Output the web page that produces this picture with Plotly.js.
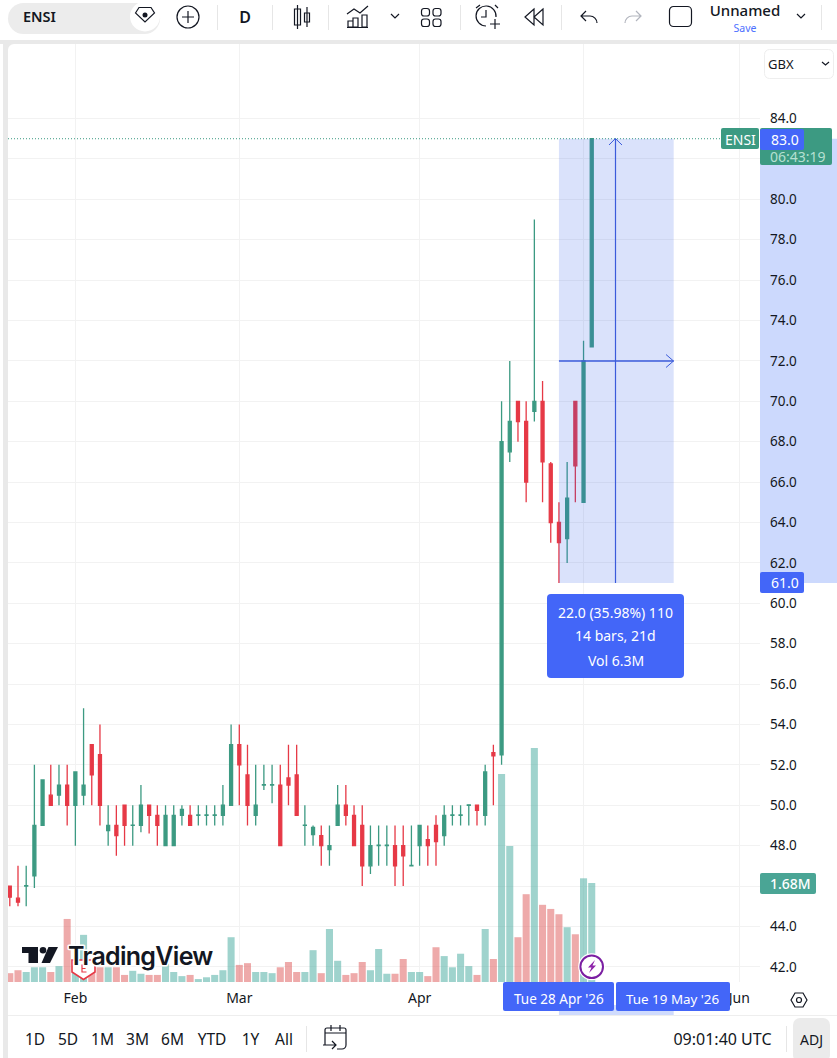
<!DOCTYPE html>
<html><head><meta charset="utf-8">
<script src="https://cdn.plot.ly/plotly-3.0.1.min.js"></script>
<style>
html,body{margin:0;padding:0;background:#fff;overflow:hidden}
#chart{position:absolute;left:0;top:0;width:837px;height:1058px}
#chrome{position:absolute;left:0;top:0;width:837px;height:1058px;pointer-events:none}
#chrome text{font-family:"Noto Sans",sans-serif;fill:#131722}
.ic{fill:none;stroke:#131722;stroke-width:1.2}
.dv{stroke:#e6e6e6;stroke-width:1}
</style></head><body>
<div id="chart"></div>
<svg id="chrome" width="837" height="1058" viewBox="0 0 837 1058">
  <rect x="0" y="40" width="837" height="4" fill="#e9e9e9"/>
  <rect x="3" y="40" width="5" height="1018" fill="#e9e9e9"/>
  <path d="M8 44h6a6 6 0 0 0-6 6z" fill="#e9e9e9"/>
  <rect x="8" y="3" width="152" height="31" rx="15.5" fill="#ececec"/>
  <text x="23" y="22" font-size="14.5" font-weight="600">ENSI</text>
  <circle cx="145" cy="16.5" r="15" fill="#fff"/>
  <path class="ic" d="M135.500 13l3.500-5.500h12l3.500 5.500-9.500 9z" stroke-width="1.500"/><circle cx="145" cy="15" r="2.500" fill="#131722"/>
  <circle class="ic" cx="188" cy="17" r="11"/><path class="ic" d="M182 17h12M188 11v12"/>
  <line class="dv" x1="217.500" y1="5" x2="217.500" y2="30"/>
  <text x="245" y="23" font-size="16" font-weight="600" text-anchor="middle">D</text>
  <line class="dv" x1="272.500" y1="5" x2="272.500" y2="30"/>
  <path class="ic" d="M297.500 5v24M294.500 9h6v16h-6zM307 7v20M304.500 13h5v9h-5z"/>
  <line class="dv" x1="328.500" y1="5" x2="328.500" y2="30"/>
  <path class="ic" d="M347 14l7-5 6 4 8-7M348 27v-6h5v6zM353 27v-9h5v9zM362 27v-12h5v12zM347 27.500h21"/>
  <path class="ic" d="M391 14l4 4 4-4"/>
  <rect class="ic" x="421.500" y="8.500" width="8" height="7.500" rx="2.500"/><rect class="ic" x="433" y="8.500" width="8" height="7.500" rx="2.500"/>
  <rect class="ic" x="421.500" y="19" width="8" height="7.500" rx="2.500"/><rect class="ic" x="433" y="19" width="8" height="7.500" rx="2.500"/>
  <line class="dv" x1="460.500" y1="5" x2="460.500" y2="30"/>
  <path class="ic" d="M486 26a10 10 0 1 1 10-9M486 10v7h-5M476 8l4-3M495 5l3 3M490 24h10M495 19v10"/>
  <path class="ic" d="M534 9l-9 8 9 8zM543 9l-9 8 9 8z"/>
  <line class="dv" x1="561.500" y1="5" x2="561.500" y2="30"/>
  <path class="ic" d="M586 11l-5 5 5 5M581 16h9a7 7 0 0 1 7 7"/>
  <path d="M636 11l5 5-5 5M641 16h-9a7 7 0 0 0-7 7" fill="none" stroke="#b2b5be" stroke-width="1.2"/>
  <rect class="ic" x="669.500" y="6.500" width="22" height="20" rx="4" stroke-width="1.4"/>
  <text x="745" y="16" font-size="15" font-weight="500" text-anchor="middle">Unnamed</text>
  <text x="745" y="32" font-size="10.500" text-anchor="middle" style="fill:#4c6fff">Save</text>
  <path class="ic" d="M797 14l4 4 4-4"/>
  <line class="dv" x1="821.500" y1="5" x2="821.500" y2="30"/>
  <rect x="764.500" y="49.500" width="69" height="29" rx="5" fill="#fff" stroke="#eeeeee"/>
  <text x="768" y="69" font-size="13">GBX</text>
  <path class="ic" d="M822 62l3.500 3 3.500-3" stroke-width="1.500"/>

  <path d="M791 1000l4-7h8l4 7-4 7h-8z" class="ic"/><circle class="ic" cx="799" cy="1000" r="2.500"/>

  <line x1="8" y1="1015.500" x2="837" y2="1015.500" stroke="#eeeeee"/>
  <g font-size="15.500" text-anchor="middle">
    <text x="35" y="1045">1D</text><text x="68" y="1045">5D</text><text x="102.500" y="1045">1M</text>
    <text x="137.500" y="1045">3M</text><text x="172.500" y="1045">6M</text><text x="212" y="1045">YTD</text>
    <text x="250.500" y="1045">1Y</text><text x="284" y="1045">All</text>
  </g>
  <line class="dv" x1="306.500" y1="1026" x2="306.500" y2="1052"/>
  <path class="ic" d="M325 1045v-15a2 2 0 0 1 2-2h17a2 2 0 0 1 2 2v15a4 4 0 0 1-4 4h-5M325 1033h21M331 1025v6M340 1025v6M323 1045h13M332 1041l4 4-4 4"/>
  <text x="722.500" y="1045" font-size="16" text-anchor="middle">09:01:40 UTC</text>
  <line class="dv" x1="786.500" y1="1026" x2="786.500" y2="1052"/>
  <rect x="793" y="1018" width="37" height="44" rx="7" fill="#ebebeb"/>
  <text x="811.500" y="1045" font-size="14" text-anchor="middle">ADJ</text>

  <path d="M72 960h23v12l-11.500 7.500-11.500-7.500z" fill="#fff" stroke="#e63946" stroke-width="1.6"/>
  <path d="M86.500 965h-4.500v7h4.500M82 968.500h3.500" fill="none" stroke="#e63946" stroke-width="1.200"/>

  <path d="M22 947h16v16h-9.500v-10h-6.500z" fill="#131722"/><circle cx="43" cy="950.300" r="3.300" fill="#131722"/>
  <path d="M48.500 947h9.500l-8 16h-8.500z" fill="#131722"/>
  <text x="68" y="964.500" font-size="25" font-weight="600" style="font-family:Inter,sans-serif;paint-order:stroke;stroke:#fff;stroke-width:3px;stroke-linejoin:round;letter-spacing:-0.7px">TradingView</text>

  <circle cx="591.700" cy="966.700" r="13.500" fill="#fff"/>
  <circle cx="591.700" cy="966.700" r="11.300" fill="#fff" stroke="#7b1fa2" stroke-width="2"/>
  <path d="M595 960l-7 7.500h3.500l-2.500 5.500 7-7.500h-3.500z" fill="#8e24aa"/>
</svg>
<script>
var dates = ["2026-01-21","2026-01-22","2026-01-23","2026-01-26","2026-01-27","2026-01-28","2026-01-29","2026-01-30",
"2026-02-02","2026-02-03","2026-02-04","2026-02-05","2026-02-06","2026-02-09","2026-02-10","2026-02-11","2026-02-12","2026-02-13",
"2026-02-16","2026-02-17","2026-02-18","2026-02-19","2026-02-20","2026-02-23","2026-02-24","2026-02-25","2026-02-26","2026-02-27",
"2026-03-02","2026-03-03","2026-03-04","2026-03-05","2026-03-06","2026-03-09","2026-03-10","2026-03-11","2026-03-12","2026-03-13",
"2026-03-16","2026-03-17","2026-03-18","2026-03-19","2026-03-20","2026-03-23","2026-03-24","2026-03-25","2026-03-26","2026-03-27",
"2026-03-30","2026-03-31","2026-04-01","2026-04-02","2026-04-07","2026-04-08","2026-04-09","2026-04-10","2026-04-13","2026-04-14",
"2026-04-15","2026-04-16","2026-04-17","2026-04-20","2026-04-21","2026-04-22","2026-04-23","2026-04-24","2026-04-27","2026-04-28",
"2026-04-29","2026-04-30","2026-05-01","2026-05-05","2026-05-06","2026-05-07","2026-05-08","2026-05-11","2026-05-12","2026-05-13",
"2026-05-14","2026-05-15","2026-05-18","2026-05-19","2026-05-20","2026-05-21","2026-05-22","2026-05-26","2026-05-27","2026-05-28",
"2026-05-29","2026-06-01"];
var opens = [46,45.4,46,46.5,49,50.5,50.5,51,50,50.5,53,52.5,48.75,49,50,49,49,50,49.5,48,48,49.5,49.5,49.5,49.5,49.5,49.5,50,53,51.5,
49.5,51,51,51,51.35,51.5,49,48.55,48.5,47.8,49,50,49.5,49,47,48,48,48,48,47,48,48.3,49,48.5,49.5,49.5,50,50,49.5,52.6,
52.5,67.5,70,69,69.5,70,66.9,64,63.2,70,65,72.7];
var highs = [46,47,47,52,51.25,52,52,52,51.65,54.8,53,54,50,50,50,50,51,50,50,50,50,50,50,50,50,50,51,54,54,53,
52,52,52,52,53,53,50,49,49,49,51,51,50,50,49,49,49,49,49,49,49,49,49.5,50,50,50,50,50,52,53,
70,72,70,70,79,71,67,65,67,70,73,83];
var lows = [45,45,45,45.9,49,50,50,49,48,50,50,49,48,47.5,48,48,48.67,48.6,48,48,48,49,49,49,49,49,49,50,50,49,
49,50.75,50.1,48,50,49.5,48,48,47,47,49,49,48,46,46.6,47,47,46,46,47,47,47,47,48,49,49,49,49,49,50,
52,67,68,65,69,65,63,61,62,65,65,72.7];
var closes = [45.45,45.2,46.02,49,51.25,50,51,50,51.65,51,51.5,50,49,48.5,49,49.02,50,49.5,49,49.5,49.5,49.8,49,49.52,49.52,49.52,50,53,52,50,
50,51.02,51.02,48,51,49.5,49.02,48.9,48,48,50,49.5,48,47,48,48.02,48.02,47,47.5,47.02,49,48,48.2,49.5,49.52,49.52,50.02,49.75,51.65,52.45,
68,69,69,66,70,67,64,63,65.2,66.8,72,83];
var volumes = [.15,.20,.17,.25,.25,.17,.27,1.07,.25,.80,.25,.25,.25,.25,.12,.19,.14,.12,.12,.31,
.17,.10,.12,.05,.08,.12,.20,.76,.29,.32,.17,.17,.15,.25,.34,.17,.17,.54,.15,.90,
.36,.12,.15,.34,.20,.56,.14,.14,.39,.17,.17,.10,.59,.44,.25,.48,.27,.12,.90,.39,
3.53,2.31,.76,1.49,3.97,1.31,1.24,1.15,.93,.81,1.76,1.68];
var priceTicks = [42,44,46,48,50,52,54,56,58,60,62,64,66,68,70,72,74,76,78,80,82,84];
var hiddenPriceLabels = [46,82];
var monthTicks = ["2026-02-02","2026-03-02","2026-04-01","2026-05-01","2026-06-01"];
var monthLabels = ["Feb","Mar","Apr","","Jun"];
var measureLines = ["22.0 (35.98%) 110","14 bars, 21d","Vol 6.3M"];

var W=837,H=1058,ML=8,MR=77,MT=44,MB=76,PW=W-ML-MR,PH=H-MT-MB;
function px(x){return (x-ML)/PW;}
function py(y){return (H-MB-y)/PH;}
var FONT='"Noto Sans",sans-serif';
var GREEN='#3c9a82',RED='#e63946',BLUE='#4366f8',LINE='#3b5bdb';

var startDate="2026-04-28", endDate="2026-05-19", lowPrice=61, lastPrice=83;
var iStart=dates.indexOf(startDate), iEnd=dates.indexOf(endDate);

var candles={type:'candlestick',x:dates.slice(0,opens.length),open:opens,high:highs,low:lows,close:closes,
  increasing:{line:{color:GREEN,width:1.3},fillcolor:GREEN},
  decreasing:{line:{color:RED,width:1.3},fillcolor:RED},
  whiskerwidth:0,hoverinfo:'skip',xaxis:'x',yaxis:'y',showlegend:false};
var volBars={type:'bar',x:dates.slice(0,volumes.length),y:volumes,yaxis:'y2',xaxis:'x',hoverinfo:'skip',showlegend:false,
  marker:{color:closes.map(function(c,i){return c>=opens[i]?'rgba(64,168,155,0.5)':'rgba(222,85,85,0.5)';}),line:{width:0}}};

function rr(x0,y0,x1,y1,r){
  var a=px(x0),b=px(x1),c=py(y0),d=py(y1),rx=r/PW,ry=r/PH;
  return 'M'+(a+rx)+' '+c+' L'+(b-rx)+' '+c+' Q'+b+' '+c+' '+b+' '+(c-ry)+' L'+b+' '+(d+ry)+' Q'+b+' '+d+' '+(b-rx)+' '+d+
    ' L'+(a+rx)+' '+d+' Q'+a+' '+d+' '+a+' '+(d+ry)+' L'+a+' '+(c-ry)+' Q'+a+' '+c+' '+(a+rx)+' '+c+' Z';
}
function poly(pts){return pts.map(function(p,i){return (i?'L':'M')+px(p[0])+' '+py(p[1]);}).join(' ');}
function box(x0,y0,x1,y1,r,c){return {type:'path',layer:'above',xref:'paper',yref:'paper',path:rr(x0,y0,x1,y1,r),fillcolor:c,line:{width:0}};}
var midI=(iStart+iEnd)/2-0.1, midPrice=72;
var shapes=[
  {type:'rect',layer:'below',xref:'paper',yref:'y',x0:1,x1:1+MR/PW,y0:lowPrice,y1:lastPrice,fillcolor:'#ccd9fd',line:{width:0}},
  {type:'line',layer:'above',xref:'paper',yref:'y',x0:0,x1:1,y0:lastPrice,y1:lastPrice,line:{color:GREEN,width:1,dash:'1px,2px'}},
  {type:'rect',layer:'above',xref:'x',yref:'y',x0:iStart,x1:iEnd,y0:lowPrice,y1:lastPrice,fillcolor:'rgb(50,95,235)',opacity:0.18,line:{width:0}},
  {type:'line',layer:'above',xref:'x',yref:'y',x0:midI,x1:midI,y0:lowPrice,y1:lastPrice,line:{color:LINE,width:1.2}},
  {type:'line',layer:'above',xref:'x',yref:'y',x0:iStart,x1:iEnd,y0:midPrice,y1:midPrice,line:{color:LINE,width:1.5}},
  {type:'path',layer:'above',xref:'paper',yref:'paper',path:poly([[609,145],[615.400,138.500],[622,145]]),line:{color:LINE,width:1}},
  {type:'path',layer:'above',xref:'paper',yref:'paper',path:poly([[666,354.500],[673.500,361],[666,367.500]]),line:{color:LINE,width:1}},
  {type:'rect',layer:'above',xref:'x',yref:'paper',x0:iStart,x1:iEnd,y0:py(1015),y1:py(1005),fillcolor:'#cfdbfd',line:{width:0}},
  box(547,594,684,678,4,BLUE),
  box(721,128,759,149,2,GREEN),
  box(760,128,832,165,2,GREEN),
  box(760,129,804,150,2,BLUE),
  box(760,572,804,593,2,BLUE),
  box(760,873,816,894,2,'#4aa595'),
  box(503,982,614,1011,2,BLUE),
  box(616,982,730,1011,2,BLUE)
];
function label(cx,cy,text,opt){
  opt=opt||{};
  return {xref:'paper',yref:'paper',x:px(cx),y:py(cy),xanchor:'center',yanchor:'middle',text:text,showarrow:false,
    font:{family:FONT,size:opt.size||14,color:opt.color||'#ffffff',weight:opt.weight||400},borderpad:0,borderwidth:0};
}
var annotations=[
  label(740,139,'ENSI'),
  label(784.500,139.500,lastPrice.toFixed(1)),
  label(798,156,'06:43:19',{color:'#b6e0d2'}),
  label(784.500,582.500,lowPrice.toFixed(1)),
  label(790.500,883.500,volumes[volumes.length-1].toFixed(2)+'M',{weight:500}),
  label(615.500,612,measureLines[0]),
  label(615.500,636,measureLines[1]),
  label(615.500,660,measureLines[2]),
  label(558.500,998.500,"Tue 28 Apr '26",{size:13.5}),
  label(673,998.500,"Tue 19 May '26",{size:13.4})
];
var layout={width:W,height:H,margin:{l:ML,r:MR,t:MT,b:MB,pad:0},paper_bgcolor:'#ffffff',plot_bgcolor:'#ffffff',
  showlegend:false,hovermode:false,dragmode:false,bargap:0.14,boxgap:0.48,
  xaxis:{type:'category',categoryorder:'array',categoryarray:dates,range:[-0.22,91.53],autorange:false,
    rangeslider:{visible:false},tickmode:'array',tickvals:monthTicks,ticktext:monthLabels,ticks:'',
    showgrid:true,gridcolor:'#f2f2f2',gridwidth:1,zeroline:false,showline:false,
    tickfont:{family:FONT,size:14,color:'#131722'},ticklabelstandoff:6,fixedrange:true},
  yaxis:{side:'right',range:[41.25,87.69],autorange:false,tickmode:'array',tickvals:priceTicks,
    ticktext:priceTicks.map(function(v){return hiddenPriceLabels.indexOf(v)>=0?'':v.toFixed(1);}),ticks:'',showgrid:true,gridcolor:'#f2f2f2',gridwidth:1,
    zeroline:false,showline:false,tickfont:{family:FONT,size:13.500,color:'#131722'},ticklabelstandoff:9,fixedrange:true},
  yaxis2:{overlaying:'y',side:'right',range:[0,15.92],autorange:false,visible:false,showgrid:false,fixedrange:true},
  shapes:shapes,annotations:annotations};
Plotly.newPlot('chart',[volBars,candles],layout,{staticPlot:true,displayModeBar:false});
</script>
</body></html>
